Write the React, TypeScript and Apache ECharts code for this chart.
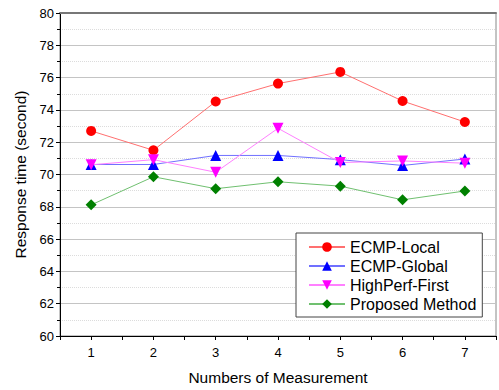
import React, { useEffect, useRef } from "react";
import * as echarts from "echarts";

const categories = [1, 2, 3, 4, 5, 6, 7];
const ecmpLocal = [72.7, 71.5, 74.52, 75.63, 76.35, 74.55, 73.25];
const ecmpGlobal = [70.62, 70.62, 71.18, 71.18, 70.92, 70.56, 70.96];
const highPerf = [70.6, 70.92, 70.14, 72.86, 70.74, 70.84, 70.7];
const proposed = [68.12, 69.86, 69.12, 69.55, 69.28, 68.43, 68.98];
const yTicks = { min: 60, max: 80, step: 2 };

const FONT = "Liberation Sans, Arial, sans-serif";

function mk(name: string, vals: number[], symbol: string, color: string, lineColor: string, size: number, rotate = 0) {
  return {
    name,
    type: "line",
    data: categories.map((c, i) => [c, vals[i]]),
    symbol,
    symbolSize: size,
    symbolRotate: rotate,
    itemStyle: { color },
    lineStyle: { color: lineColor, width: 1 },
    z: 3,
  };
}

export default function App() {
  const ref = useRef<HTMLDivElement>(null);
  useEffect(() => {
    const chart = echarts.init(ref.current!, undefined, { renderer: "svg" });
    chart.setOption({
      animation: false,
      backgroundColor: "#fff",
      textStyle: { fontFamily: FONT },
      grid: {
        left: 60,
        right: 1,
        top: 13,
        bottom: 51,
        show: true,
        borderColor: "#888",
        borderWidth: 1,
      },
      legend: {
        orient: "vertical",
        left: 296,
        top: 233,
        backgroundColor: "#fff",
        borderColor: "#444",
        borderWidth: 1,
        borderRadius: 0,
        padding: [6, 6, 5, 12],
        itemWidth: 36,
        itemHeight: 12,
        itemGap: 3,
        textStyle: { fontSize: 16, color: "#000", fontFamily: FONT },
      },
      xAxis: [
        {
          type: "value",
          min: 0.5,
          max: 7.5,
          interval: 0.5,
          name: "Numbers of Measurement",
          nameLocation: "middle",
          nameGap: 33,
          nameTextStyle: { fontSize: 15.5, color: "#000", fontFamily: FONT },
          axisLine: { lineStyle: { color: "#000", width: 1 } },
          axisTick: { show: true, inside: false, length: 4, lineStyle: { color: "#000" } },
          axisLabel: {
            fontSize: 13,
            color: "#000",
            margin: 10,
            formatter: (v: number) => (Number.isInteger(v) ? String(v) : ""),
          },
          splitLine: { show: false },
        },
        {
          type: "value",
          position: "top",
          min: 0.5,
          max: 7.5,
          axisLine: { show: true, lineStyle: { color: "#777", width: 2 } },
          axisTick: { show: false },
          axisLabel: { show: false },
          splitLine: { show: false },
        },
      ],
      yAxis: {
        type: "value",
        min: yTicks.min,
        max: yTicks.max,
        interval: yTicks.step,
        name: "Response time (second)",
        nameLocation: "middle",
        nameGap: 32,
        nameTextStyle: { fontSize: 15.5, color: "#000", fontFamily: FONT },
        axisLine: { show: true, lineStyle: { color: "#000", width: 1 } },
        axisTick: { show: true, inside: false, length: 4, lineStyle: { color: "#000" } },
        minorTick: { show: true, splitNumber: 2, length: 3, lineStyle: { color: "#000" } },
        axisLabel: { fontSize: 13, color: "#000", margin: 6 },
        splitLine: { show: true, lineStyle: { color: "#c4c4c4", width: 1 } },
        minorSplitLine: { show: true, lineStyle: { color: "#dcdcdc", type: "dotted", width: 1 } },
      },
      series: [
        mk("ECMP-Local", ecmpLocal, "circle", "#ff0000", "#ff7070", 10),
        mk("ECMP-Global", ecmpGlobal, "triangle", "#0000ff", "#7070ff", 11),
        mk("HighPerf-First", highPerf, "triangle", "#ff00ff", "#ff80ff", 11, 180),
        mk("Proposed Method", proposed, "diamond", "#008000", "#70c070", 11),
      ],
    });
    return () => chart.dispose();
  }, []);
  return <div ref={ref} style={{ width: 499, height: 390, position: "absolute", left: 0, top: 0 }} />;
}
